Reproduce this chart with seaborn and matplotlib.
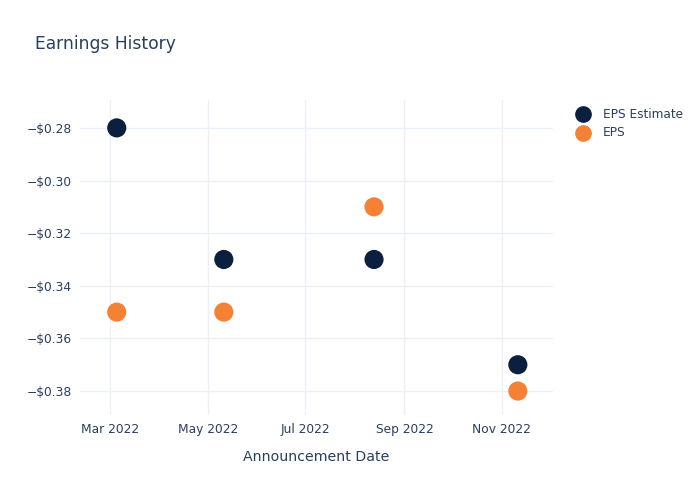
import matplotlib
matplotlib.use("Agg")
import matplotlib.pyplot as plt
import matplotlib.dates as mdates
import matplotlib.ticker as mticker
import seaborn as sns
import pandas as pd

dates = ["2022-03-05", "2022-05-11", "2022-08-13", "2022-11-11"]
eps_estimate = [-0.28, -0.33, -0.33, -0.37]
eps_actual = [-0.35, -0.35, -0.31, -0.38]

df = pd.DataFrame({
    "date": pd.to_datetime(dates * 2),
    "value": eps_estimate + eps_actual,
    "series": ["EPS Estimate"] * 4 + ["EPS"] * 4,
})

sns.set_style("white")
plt.rcParams['font.family'] = ['DejaVu Sans']
text_color = "#2a3f5f"
grid_color = "#ebf0f8"

fig = plt.figure(figsize=(7, 5), dpi=100)
ax = fig.add_axes([80/700, 1 - 415/500, (553-80)/700, (415-100)/500])

palette = {"EPS Estimate": "#0b1f3f", "EPS": "#f58134"}
sns.scatterplot(data=df, x="date", y="value", hue="series", palette=palette,
                s=190, edgecolor="none", ax=ax, zorder=3, legend=False)

ax.set_xlim(pd.Timestamp("2022-02-10"), pd.Timestamp("2022-12-03"))
ax.set_ylim(-0.3891, -0.2694)
ax.set_yticks([-0.38, -0.36, -0.34, -0.32, -0.30, -0.28])
ax.yaxis.set_major_formatter(mticker.FuncFormatter(lambda v, p: ("\u2212" if v < 0 else "") + f"${abs(v):.2f}"))
ax.set_xticks(pd.to_datetime(["2022-03-01", "2022-05-01", "2022-07-01", "2022-09-01", "2022-11-01"]))
ax.xaxis.set_major_formatter(mdates.DateFormatter("%b %Y"))

ax.grid(True, color=grid_color, linewidth=1)
ax.set_axisbelow(True)
for s in ax.spines.values():
    s.set_visible(False)
ax.tick_params(axis="both", length=0, labelsize=8.8, colors=text_color, pad=6)
ax.set_xlabel("Announcement Date", fontsize=10.2, color=text_color, labelpad=10)
ax.set_ylabel("")

fig.text(35/700, 1 - 44/500, "Earnings History", fontsize=12.3, color=text_color, va="center")

# legend
for i, (name, col) in enumerate(palette.items()):
    y = 1 - (114 + 19*i)/500
    fig.lines.append(plt.Line2D([583/700], [y], marker="o", markersize=11, color=col,
                                linestyle="none", transform=fig.transFigure, figure=fig))
    fig.text(603/700, y, name, fontsize=8.7, color=text_color, va="center")

fig.savefig("out.png", dpi=100)
